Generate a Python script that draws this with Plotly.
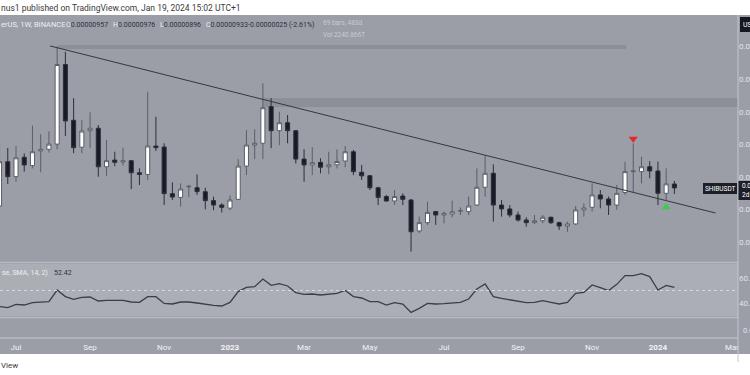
import plotly.graph_objects as go
import pandas as pd

# ---------------- data (prices in millionths of USDT) ----------------
first_week = "2022-06-20"
open_e6 = [8.22, 10.94, 10.02, 11.21, 10.70, 11.60, 11.70, 12.02, 16.90, 13.48,
           11.83, 12.84, 12.99, 10.63, 11.04, 10.92, 11.00, 10.26, 10.16, 11.90,
           11.84, 8.98, 8.75, 9.40, 9.34, 9.10, 8.55, 8.28, 8.09, 8.63,
           10.67, 11.96, 12.07, 14.32, 12.84, 13.33, 12.84, 11.10, 10.74, 10.90,
           10.63, 10.75, 10.98, 11.55, 10.29, 10.08, 9.34, 8.80, 8.53, 8.83,
           8.59, 6.69, 7.20, 7.88, 7.67, 7.73, 7.91, 7.88, 8.28, 9.37,
           10.23, 8.28, 8.04, 7.67, 7.36, 7.20, 7.32, 7.53, 7.20, 6.99,
           7.12, 7.98, 8.14, 8.90, 8.65, 8.28, 9.05, 10.33, 10.33, 10.63,
           10.37, 9.00, 9.57]
high_e6 = [12.17, 11.78, 11.90, 11.45, 13.15, 12.63, 12.80, 17.99, 17.68, 14.84,
           13.50, 13.97, 13.19, 12.27, 11.55, 11.80, 11.04, 10.53, 15.23, 13.70,
           12.07, 9.67, 9.61, 9.51, 10.16, 9.34, 8.79, 8.39, 8.87, 11.10,
           12.88, 12.92, 15.75, 14.84, 14.00, 13.80, 12.88, 11.70, 11.83, 11.15,
           11.55, 11.70, 11.90, 11.66, 10.74, 10.12, 9.40, 8.90, 9.20, 8.99,
           8.65, 7.57, 8.49, 7.90, 7.88, 8.55, 8.14, 8.80, 10.53, 11.35,
           10.78, 8.59, 8.28, 7.88, 7.53, 7.67, 7.67, 7.57, 7.26, 7.26,
           8.22, 8.39, 9.61, 9.20, 8.80, 9.51, 10.94, 12.07, 11.24, 10.98,
           10.94, 10.53, 9.76]
low_e6 = [7.98, 9.57, 9.71, 10.33, 10.53, 10.29, 11.50, 11.70, 12.52, 11.46,
          11.46, 11.77, 10.02, 10.08, 10.67, 10.70, 9.26, 9.51, 9.82, 11.60,
          8.28, 8.59, 8.18, 8.77, 8.90, 8.02, 7.96, 7.82, 7.96, 8.59,
          10.12, 11.10, 11.10, 11.77, 11.96, 12.07, 10.83, 9.71, 10.12, 10.23,
          10.17, 10.53, 10.60, 10.12, 9.82, 9.20, 8.28, 8.49, 8.28, 8.28,
          5.42, 6.55, 7.06, 7.06, 7.16, 7.53, 7.67, 7.67, 8.22, 8.80,
          7.26, 7.57, 7.53, 7.27, 6.95, 7.12, 7.16, 7.12, 6.75, 6.64,
          7.06, 7.57, 7.88, 8.08, 7.67, 7.98, 8.90, 9.05, 9.61, 9.92,
          8.28, 8.59, 8.96]
close_e6 = [10.94, 10.02, 11.18, 10.74, 11.55, 11.70, 12.02, 16.90, 13.44, 11.80,
            12.82, 12.99, 10.63, 11.00, 10.90, 11.00, 10.26, 10.16, 11.90, 11.80,
            8.98, 8.77, 9.26, 9.43, 9.10, 8.55, 8.28, 8.14, 8.59, 10.67,
            11.96, 12.07, 14.25, 12.84, 13.33, 12.84, 11.10, 10.74, 10.88, 10.60,
            10.75, 10.95, 11.55, 10.33, 10.07, 9.34, 8.75, 8.53, 8.80, 8.63,
            6.64, 7.20, 7.83, 7.67, 7.77, 7.87, 7.94, 8.22, 9.37, 10.23,
            8.28, 8.04, 7.67, 7.36, 7.20, 7.32, 7.53, 7.20, 6.99, 7.12,
            7.98, 8.10, 8.90, 8.65, 8.28, 9.00, 10.33, 10.37, 10.63, 10.37,
            9.00, 9.58, 9.33]
rsi_values = [37.1, 36.3, 38.9, 38.4, 40.3, 40.5, 41.1, 50.4, 45.1, 42.9,
              44.5, 44.8, 41.6, 42.1, 42.1, 42.1, 40.8, 40.5, 45.1, 45.1,
              39.7, 39.2, 40.8, 40.8, 40.0, 38.9, 38.1, 37.6, 40.5, 49.1,
              52.5, 53.1, 59.2, 54.1, 55.5, 53.6, 48.3, 46.9, 47.2, 46.4,
              46.9, 47.7, 50.1, 45.1, 44.0, 41.1, 41.1, 38.4, 40.3, 39.2,
              32.5, 35.7, 39.7, 39.2, 39.5, 40.3, 40.5, 43.2, 51.2, 55.2,
              45.1, 43.7, 42.4, 41.1, 40.3, 40.5, 41.9, 40.5, 39.2, 40.5,
              47.7, 48.5, 54.4, 52.3, 49.9, 54.9, 61.9, 61.9, 63.5, 61.1,
              50.4, 54.1, 52.42]

price_ticks_e6 = [6, 8, 10, 12, 14, 16, 18]
rsi_ticks = [40, 60]
month_ticks = ["2022-07-04", "2022-09-05", "2022-11-07", "2023-01-02", "2023-03-06",
               "2023-05-01", "2023-07-03", "2023-09-04", "2023-11-06", "2024-01-01",
               "2024-03-04"]
month_labels = ["Jul", "Sep", "Nov", "<b>2023</b>", "Mar", "May", "Jul", "Sep", "Nov",
                "<b>2024</b>", "Mar"]

trend_dates = ["2022-08-02", "2024-02-19"]
trend_e6 = [18.04, 7.79]
zone_a = {"from": "2022-08-08", "to": "2023-12-05", "lo": 17.85, "hi": 18.10}
zone_b = {"from": "2023-01-30", "to": "2024-12-31", "lo": 14.30, "hi": 14.85}
sell_signal = {"date": "2023-12-11", "price": 12.35}
buy_signal = {"date": "2024-01-08", "price": 8.15}

# ---------------- build ----------------
dates = pd.date_range(first_week, periods=len(open_e6), freq="7D")
E = 1e-6
W, H = 750, 375
def X(px): return px / W
def Y(px): return 1 - px / H

ref = pd.Timestamp("2022-07-04")
pxw = 8.23
x0 = ref - pd.Timedelta(days=16 / pxw * 7)
x1 = ref + pd.Timedelta(days=(738 - 16) / pxw * 7)

BG = "#9b9ea6"
BAND = "#acaeb5"
SEP = "#b8bac0"
LIGHT = "#eceef2"
DARK = "#2e313a"
FONT = "Roboto"

fig = go.Figure()
fig.add_trace(go.Candlestick(
    x=dates, open=[v * E for v in open_e6], high=[v * E for v in high_e6],
    low=[v * E for v in low_e6], close=[v * E for v in close_e6],
    increasing=dict(fillcolor="#ffffff", line=dict(color="#5b5e67", width=1)),
    decreasing=dict(fillcolor="#181b25", line=dict(color="#2c2f38", width=1)),
    whiskerwidth=0, xaxis="x", yaxis="y", showlegend=False, hoverinfo="skip"))
fig.add_trace(go.Scatter(
    x=[sell_signal["date"]], y=[sell_signal["price"] * E], mode="markers",
    marker=dict(symbol="triangle-down", size=8, color="#e8262a"),
    xaxis="x", yaxis="y", showlegend=False, hoverinfo="skip"))
fig.add_trace(go.Scatter(
    x=[buy_signal["date"]], y=[buy_signal["price"] * E], mode="markers",
    marker=dict(symbol="triangle-up", size=8, color="#2fd14f"),
    xaxis="x", yaxis="y", showlegend=False, hoverinfo="skip"))
fig.add_trace(go.Scatter(
    x=dates, y=rsi_values, mode="lines", line=dict(color="#3b3e47", width=1.3),
    xaxis="x2", yaxis="y2", showlegend=False, hoverinfo="skip"))
fig.add_trace(go.Scatter(
    x=[dates[0]], y=[0.5], mode="markers", marker=dict(opacity=0),
    xaxis="x3", yaxis="y3", showlegend=False, hoverinfo="skip"))

shapes = [
    dict(type="rect", xref="paper", yref="paper", x0=0, x1=1, y0=Y(354), y1=Y(15),
         fillcolor=BG, line_width=0, layer="below"),
    dict(type="rect", xref="paper", yref="paper", x0=0, x1=X(738), y0=Y(316), y1=Y(264),
         fillcolor=BAND, line_width=0, layer="below"),
    dict(type="line", xref="paper", yref="paper", x0=0, x1=X(738), y0=Y(262.5), y1=Y(262.5),
         line=dict(color=SEP, width=1.5)),
    dict(type="line", xref="paper", yref="paper", x0=0, x1=X(738), y0=Y(317.5), y1=Y(317.5),
         line=dict(color=SEP, width=1.5)),
    dict(type="line", xref="paper", yref="paper", x0=0, x1=X(738), y0=Y(338), y1=Y(338),
         line=dict(color=SEP, width=1.5)),
    dict(type="line", xref="paper", yref="paper", x0=X(738), x1=X(738), y0=Y(362), y1=Y(15),
         line=dict(color="#c4c6cb", width=1)),
    dict(type="line", xref="paper", yref="y2", x0=0, x1=X(738), y0=50, y1=50,
         line=dict(color="#d6d8dc", width=1, dash="3px,3px")),
    dict(type="rect", xref="x", yref="y", x0=zone_a["from"], x1=zone_a["to"],
         y0=zone_a["lo"] * E, y1=zone_a["hi"] * E, fillcolor="#8c8f97", line_width=0, layer="below"),
    dict(type="rect", xref="x", yref="y", x0=zone_b["from"], x1=zone_b["to"],
         y0=zone_b["lo"] * E, y1=zone_b["hi"] * E, fillcolor="#8c8f97", line_width=0, layer="below"),
    dict(type="line", xref="x", yref="y", x0=trend_dates[0], x1=trend_dates[1],
         y0=trend_e6[0] * E, y1=trend_e6[1] * E, line=dict(color="#34373f", width=1), layer="above"),
    # label boxes
    dict(type="rect", xref="paper", yref="paper", x0=X(740), x1=X(752), y0=Y(32), y1=Y(17),
         fillcolor="#151820", line_width=0),
    dict(type="rect", xref="paper", yref="paper", x0=X(703), x1=X(737), y0=Y(194), y1=Y(183),
         fillcolor="#1c1f28", line_width=0),
    dict(type="rect", xref="paper", yref="paper", x0=X(738.5), x1=X(752), y0=Y(200), y1=Y(181),
         fillcolor="#1c1f28", line_width=0),
]

def ann(text, px, py, size=8.5, color=DARK, anchor="left"):
    return dict(text=text, x=X(px), y=Y(py), xref="paper", yref="paper",
                xanchor=anchor, yanchor="middle", showarrow=False,
                font=dict(family=FONT, size=size, color=color))

def ohlc(letter, val):
    return f"<span style='color:{LIGHT}'>{letter}</span>{val}"

annotations = [
    ann("nus1 published on TradingView.com, Jan 19, 2024 15:02 UTC+1", -1, 8, 8.5, "#3a3a3a"),
    ann("erUS, 1W, BINANCE", -1, 25, 7.5, LIGHT),
    ann(ohlc("O", "0.00000957"), 64, 25, 7),
    ann(ohlc("H", "0.00000976"), 111, 25, 7),
    ann(ohlc("L", "0.00000896"), 158, 25, 7),
    ann(ohlc("C", "0.00000933"), 204, 25, 7),
    ann("-0.00000025 (-2.61%)", 246, 25, 7),
    ann("69 bars, 483d", 321, 23, 6.5, "#c9cbd1"),
    ann("Vol 2240.866T", 321, 35, 6.5, "#c9cbd1"),
    ann("USDT", 741, 24.5, 7, "#ffffff"),
    ann("SHIBUSDT", 720, 188.5, 6.5, "#ffffff", "center"),
    ann("0.00000933", 740, 186, 6.5, "#ffffff"),
    ann("2d", 740, 195, 6.5, "#ffffff"),
    ann("se, SMA, 14, 2)", 0, 273, 7, LIGHT),
    ann("52.42", 52, 273, 7, DARK),
    ann("0.00", 741, 330, 7.5, "#e2e3e7"),
    ann("View", -1, 365, 8, "#3a3a3a"),
]

axis_common = dict(showgrid=False, zeroline=False, showline=False, automargin=False)
fig.update_layout(
    width=W, height=H, margin=dict(l=0, r=0, t=0, b=0, autoexpand=False),
    paper_bgcolor="#ffffff", plot_bgcolor="rgba(0,0,0,0)",
    shapes=shapes, annotations=annotations, showlegend=False,
    xaxis=dict(domain=[0, X(738)], range=[x0, x1], type="date", showticklabels=False,
               rangeslider=dict(visible=False), anchor="y", **axis_common),
    yaxis=dict(domain=[Y(261), Y(15)], side="right", anchor="x",
               range=[4.847 * E, 19.939 * E],
               tickvals=[v * E for v in price_ticks_e6],
               ticktext=[f"{v * E:.8f}" for v in price_ticks_e6],
               tickfont=dict(family=FONT, size=8, color="#e2e3e7"), ticks="", **axis_common),
    xaxis2=dict(domain=[0, X(738)], matches="x", range=[x0, x1], type="date",
                showticklabels=False, anchor="y2", **axis_common),
    yaxis2=dict(domain=[Y(317), Y(262)], side="right", anchor="x2", range=[28.8, 72.8],
                tickvals=rsi_ticks, ticktext=[f"{v:.2f}" for v in rsi_ticks],
                tickfont=dict(family=FONT, size=8, color="#e2e3e7"), ticks="", **axis_common),
    xaxis3=dict(domain=[0, X(738)], matches="x", range=[x0, x1], type="date",
                anchor="y3", tickvals=month_ticks, ticktext=month_labels, ticks="",
                ticklabelstandoff=3,
                tickfont=dict(family=FONT, size=8, color="#f2f3f5"), **axis_common),
    yaxis3=dict(domain=[Y(338), Y(318)], range=[0, 1], visible=False, anchor="x3"),
)

fig.write_html("out.html")
